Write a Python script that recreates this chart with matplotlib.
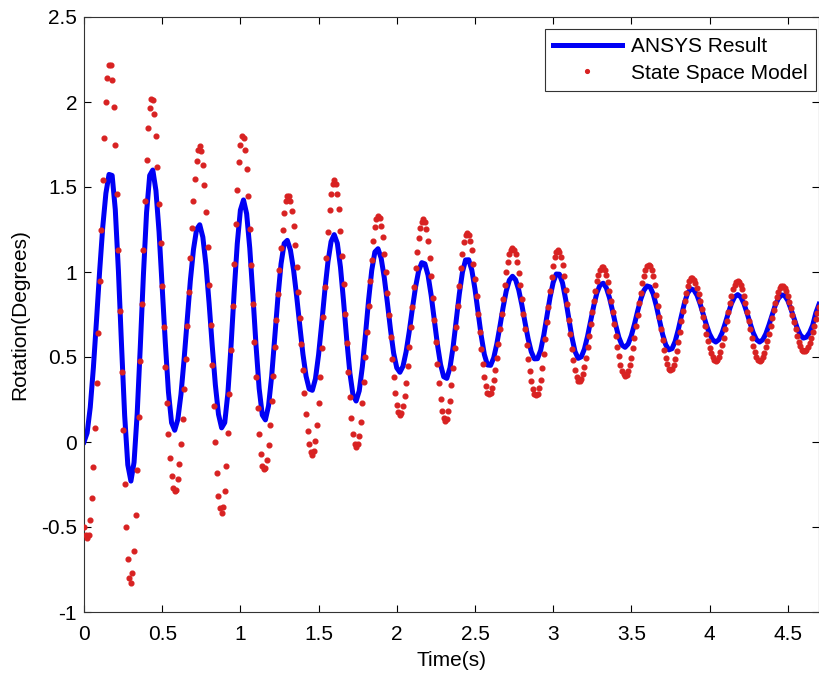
import numpy as np
import matplotlib
matplotlib.use('Agg')
import matplotlib.pyplot as plt

plt.rcParams['font.family'] = ['Liberation Sans', 'DejaVu Sans']
plt.rcParams['axes.unicode_minus'] = False

ansys_dt = 0.02
ansys_rot = [
    0.0, 0.053, 0.204, 0.437, 0.716, 1.005, 1.266, 1.463, 1.574, 1.568,
    1.368, 1.008, 0.569, 0.156, -0.134, -0.23, -0.12, 0.166, 0.561, 0.984,
    1.349, 1.568, 1.60, 1.479, 1.235, 0.914, 0.584, 0.294, 0.113, 0.069,
    0.133, 0.28, 0.486, 0.721, 0.949, 1.132, 1.251, 1.278, 1.205, 1.04,
    0.816, 0.566, 0.336, 0.163, 0.083, 0.114, 0.287, 0.562, 0.879, 1.166,
    1.364, 1.424, 1.343, 1.14, 0.863, 0.568, 0.315, 0.159, 0.13, 0.213,
    0.387, 0.616, 0.85, 1.048, 1.168, 1.186, 1.129, 1.013, 0.856, 0.683,
    0.517, 0.387, 0.312, 0.304, 0.372, 0.513, 0.696, 0.891, 1.06, 1.179,
    1.22, 1.169, 1.028, 0.825, 0.603, 0.407, 0.277, 0.241, 0.301, 0.443,
    0.633, 0.837, 1.01, 1.118, 1.137, 1.082, 0.968, 0.819, 0.66, 0.523,
    0.436, 0.41, 0.446, 0.532, 0.651, 0.786, 0.911, 1.007, 1.055, 1.048,
    0.981, 0.863, 0.718, 0.574, 0.456, 0.384, 0.374, 0.436, 0.557, 0.713,
    0.871, 0.999, 1.071, 1.072, 1.011, 0.90, 0.763, 0.625, 0.515, 0.453,
    0.451, 0.495, 0.578, 0.682, 0.792, 0.888, 0.952, 0.975, 0.954, 0.894,
    0.806, 0.704, 0.607, 0.531, 0.489, 0.49, 0.539, 0.628, 0.739, 0.85,
    0.938, 0.988, 0.987, 0.935, 0.839, 0.727, 0.616, 0.532, 0.492, 0.501,
    0.547, 0.622, 0.713, 0.803, 0.878, 0.924, 0.934, 0.907, 0.849, 0.771,
    0.688, 0.616, 0.57, 0.557, 0.577, 0.626, 0.693, 0.769, 0.839, 0.891,
    0.918, 0.912, 0.87, 0.80, 0.715, 0.633, 0.572, 0.542, 0.549, 0.591,
    0.66, 0.741, 0.819, 0.876, 0.901, 0.894, 0.863, 0.812, 0.751, 0.689,
    0.636, 0.601, 0.588, 0.602, 0.641, 0.697, 0.758, 0.814, 0.853, 0.867,
    0.853, 0.814, 0.758, 0.697, 0.641, 0.602, 0.588, 0.601, 0.636, 0.688,
    0.746, 0.803, 0.844, 0.865, 0.861, 0.833, 0.784, 0.727, 0.672, 0.631,
    0.611, 0.617, 0.644, 0.688, 0.76, 0.81,
]

# state space model, one dot every 0.01 s
ss_dt = 0.01
ss_rot = [
    -0.50, -0.545, -0.565, -0.545, -0.46, -0.33, -0.145, 0.08, 0.35, 0.64,
    0.95, 1.25, 1.54, 1.79, 2.00, 2.14, 2.22, 2.22, 2.13, 1.97,
    1.75, 1.46, 1.13, 0.77, 0.41, 0.07, -0.245, -0.50, -0.69, -0.80,
    -0.83, -0.77, -0.64, -0.43, -0.165, 0.145, 0.475, 0.81, 1.13, 1.415,
    1.66, 1.85, 1.965, 2.02, 2.01, 1.93, 1.80, 1.615, 1.40, 1.17,
    0.92, 0.675, 0.44, 0.23, 0.05, -0.096, -0.20, -0.27, -0.29, -0.28,
    -0.22, -0.13, -0.01, 0.135, 0.31, 0.49, 0.68, 0.88, 1.08, 1.26,
    1.42, 1.55, 1.655, 1.72, 1.74, 1.71, 1.63, 1.51, 1.35, 1.15,
    0.925, 0.69, 0.455, 0.21, 0.0, -0.18, -0.32, -0.39, -0.42, -0.38,
    -0.29, -0.14, 0.053, 0.28, 0.54, 0.80, 1.05, 1.285, 1.485, 1.645,
    1.75, 1.80, 1.79, 1.72, 1.605, 1.445, 1.255, 1.04, 0.81, 0.59,
    0.38, 0.20, 0.047, -0.07, -0.14, -0.16, -0.155, -0.106, -0.016, 0.10,
    0.24, 0.39, 0.56, 0.72, 0.87, 1.01, 1.14, 1.25, 1.345, 1.415,
    1.45, 1.45, 1.42, 1.36, 1.27, 1.157, 1.027, 0.883, 0.728, 0.575,
    0.425, 0.286, 0.162, 0.064, -0.012, -0.06, -0.075, -0.055, 0.006, 0.10,
    0.232, 0.382, 0.553, 0.733, 0.912, 1.083, 1.235, 1.362, 1.46, 1.52,
    1.54, 1.52, 1.46, 1.37, 1.24, 1.096, 0.929, 0.755, 0.58, 0.414,
    0.267, 0.143, 0.048, -0.011, -0.03, -0.014, 0.038, 0.117, 0.228, 0.355,
    0.499, 0.65, 0.801, 0.945, 1.073, 1.18, 1.262, 1.314, 1.33, 1.316,
    1.27, 1.204, 1.108, 0.999, 0.875, 0.745, 0.615, 0.491, 0.381, 0.289,
    0.219, 0.174, 0.16, 0.173, 0.209, 0.269, 0.35, 0.448, 0.557, 0.675,
    0.795, 0.913, 1.023, 1.12, 1.201, 1.26, 1.297, 1.31, 1.296, 1.251,
    1.182, 1.085, 0.975, 0.849, 0.718, 0.586, 0.46, 0.349, 0.255, 0.184,
    0.139, 0.125, 0.138, 0.18, 0.244, 0.335, 0.438, 0.555, 0.678, 0.80,
    0.917, 1.021, 1.108, 1.175, 1.217, 1.23, 1.219, 1.183, 1.127, 1.05,
    0.961, 0.86, 0.755, 0.65, 0.549, 0.46, 0.385, 0.328, 0.291, 0.28,
    0.289, 0.317, 0.362, 0.422, 0.495, 0.577, 0.665, 0.755, 0.843, 0.925,
    0.998, 1.058, 1.103, 1.131, 1.14, 1.13, 1.103, 1.058, 0.997, 0.924,
    0.842, 0.752, 0.663, 0.573, 0.491, 0.418, 0.357, 0.312, 0.284, 0.275,
    0.285, 0.318, 0.367, 0.437, 0.517, 0.608, 0.703, 0.797, 0.888, 0.968,
    1.036, 1.087, 1.12, 1.13, 1.12, 1.089, 1.04, 0.975, 0.893, 0.811,
    0.72, 0.633, 0.55, 0.48, 0.422, 0.38, 0.359, 0.359, 0.373, 0.401,
    0.442, 0.496, 0.557, 0.624, 0.694, 0.763, 0.83, 0.891, 0.945, 0.985,
    1.014, 1.028, 1.028, 1.013, 0.985, 0.942, 0.89, 0.83, 0.762, 0.693,
    0.625, 0.56, 0.503, 0.455, 0.42, 0.398, 0.39, 0.397, 0.418, 0.452,
    0.497, 0.553, 0.614, 0.681, 0.749, 0.816, 0.878, 0.933, 0.978, 1.012,
    1.033, 1.04, 1.033, 1.009, 0.974, 0.923, 0.866, 0.801, 0.733, 0.664,
    0.599, 0.541, 0.493, 0.456, 0.432, 0.425, 0.432, 0.454, 0.488, 0.533,
    0.591, 0.648, 0.711, 0.772, 0.83, 0.879, 0.92, 0.949, 0.963, 0.964,
    0.954, 0.935, 0.906, 0.87, 0.829, 0.783, 0.734, 0.685, 0.637, 0.593,
    0.553, 0.522, 0.498, 0.483, 0.478, 0.484, 0.502, 0.529, 0.568, 0.612,
    0.662, 0.714, 0.766, 0.816, 0.861, 0.898, 0.926, 0.944, 0.95, 0.944,
    0.926, 0.899, 0.86, 0.816, 0.766, 0.714, 0.662, 0.612, 0.567, 0.53,
    0.502, 0.484, 0.478, 0.483, 0.498, 0.523, 0.556, 0.595, 0.638, 0.685,
    0.732, 0.778, 0.82, 0.855, 0.884, 0.905, 0.915, 0.915, 0.905, 0.886,
    0.86, 0.826, 0.79, 0.746, 0.703, 0.662, 0.623, 0.589, 0.563, 0.544,
    0.534, 0.534, 0.542, 0.558, 0.582, 0.611, 0.645, 0.682, 0.721, 0.759, 0.795,
]

xticks = [0, 0.5, 1, 1.5, 2, 2.5, 3, 3.5, 4, 4.5]
xtick_labels = ['0', '0.5', '1', '1.5', '2', '2.5', '3', '3.5', '4', '4.5']
yticks = [-1, -0.5, 0, 0.5, 1, 1.5, 2, 2.5]
ytick_labels = ['-1', '-0.5', '0', '0.5', '1', '1.5', '2', '2.5']

t_ansys = np.arange(len(ansys_rot)) * ansys_dt
t_ss = np.arange(len(ss_rot)) * ss_dt

fig = plt.figure(figsize=(8.2, 6.77), dpi=100)
ax = fig.add_axes([84 / 820, 65 / 677, 735 / 820, 595 / 677])

ax.plot(t_ansys, ansys_rot, color='#0000f5', lw=3.6, solid_joinstyle='round',
        label='ANSYS Result', zorder=2)
ax.plot(t_ss, ss_rot, ls='none', marker='o', ms=3.4, color='#d82222',
        mec='#d82222', label='State Space Model', zorder=3)

ax.set_xlim(0, 4.7)
ax.set_ylim(-1, 2.5)
ax.set_xticks(xticks)
ax.set_xticklabels(xtick_labels)
ax.set_yticks(yticks)
ax.set_yticklabels(ytick_labels)

ax.tick_params(direction='in', length=5, width=0.8, top=True, right=True,
               labelsize=15, colors='black')
ax.tick_params(axis='x', pad=9)
ax.tick_params(axis='y', pad=5)
for s in ax.spines.values():
    s.set_linewidth(0.8)
    s.set_color('#333333')

ax.set_xlabel('Time(s)', fontsize=15)
ax.set_ylabel('Rotation(Degrees)', fontsize=15)
ax.xaxis.set_label_coords(0.5, -0.066)
ax.yaxis.set_label_coords(-0.075, 0.5)

leg = ax.legend(loc='upper right', bbox_to_anchor=(0.996, 0.98), fontsize=15,
                numpoints=1, handlelength=3.3, handletextpad=0.45,
                labelspacing=0.36, borderpad=0.4, borderaxespad=0,
                fancybox=False, framealpha=1, edgecolor='#333333', markerscale=0.8)
leg.get_frame().set_linewidth(0.8)

fig.savefig('out.png', dpi=100)
